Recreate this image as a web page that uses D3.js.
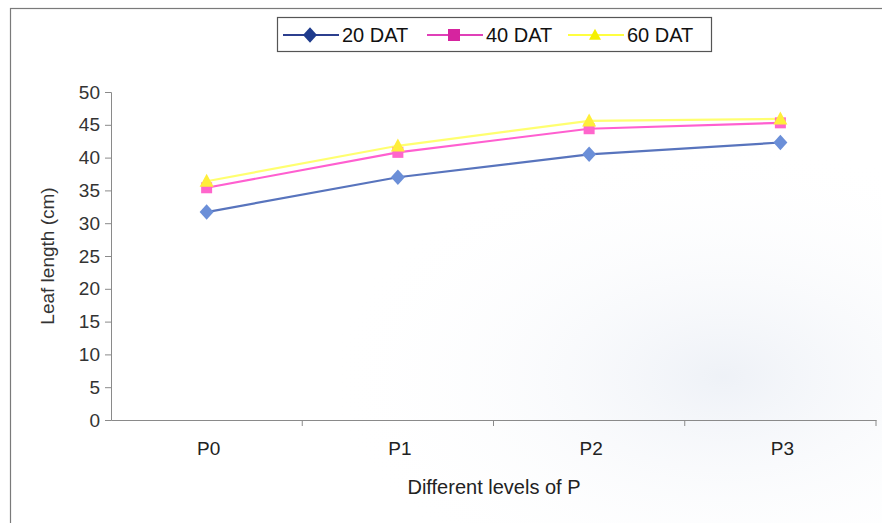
<!DOCTYPE html>
<html>
<head>
<meta charset="utf-8">
<script src="https://cdn.jsdelivr.net/npm/d3@7"></script>
<style>
  html, body { margin: 0; padding: 0; background: #fff; }
  svg { display: block; font-family: "Liberation Sans", Arial, sans-serif; }
</style>
</head>
<body>
<svg id="chart" width="882" height="523"></svg>
<script>
// Leaf length (cm) at different P levels, measured at 20/40/60 days after transplanting
const categories = ["P0", "P1", "P2", "P3"];
const seriesNames = ["20 DAT", "40 DAT", "60 DAT"];
const dat20 = [31.7, 37.0, 40.5, 42.3];
const dat40 = [35.4, 40.8, 44.4, 45.3];
const dat60 = [36.4, 41.8, 45.6, 45.9];
const yTicks = [0, 5, 10, 15, 20, 25, 30, 35, 40, 45, 50];

const series = [
  { name: seriesNames[0], values: dat20, line: "#5874bd", marker: "#6b8fd8", legendLine: "#2c3f8e", legendMarker: "#1f3b8c", shape: "diamond" },
  { name: seriesNames[1], values: dat40, line: "#ff5fd0", marker: "#ff66cc", legendLine: "#e040b8", legendMarker: "#d6249f", shape: "square" },
  { name: seriesNames[2], values: dat60, line: "#ffff70", marker: "#ffee3a", legendLine: "#ffff40", legendMarker: "#f5f000", shape: "triangle" }
];

const svg = d3.select("#chart");

// faint haze in the lower right of the frame
const defs = svg.append("defs");
const grad = defs.append("radialGradient").attr("id", "haze")
  .attr("cx", "0.82").attr("cy", "0.72").attr("r", "0.45");
grad.append("stop").attr("offset", "0").attr("stop-color", "#eaeef5").attr("stop-opacity", 0.8);
grad.append("stop").attr("offset", "1").attr("stop-color", "#ffffff").attr("stop-opacity", 0);
svg.append("rect").attr("x", 0).attr("y", 0).attr("width", 882).attr("height", 523).attr("fill", "url(#haze)");

// chart frame
svg.append("rect").attr("x", 10.5).attr("y", 8.5).attr("width", 900).attr("height", 540)
  .attr("fill", "none").attr("stroke", "#7a7a7a").attr("stroke-width", 1.2);

const plot = { left: 111, right: 876, top: 92, bottom: 420 };

const x = d3.scaleBand().domain(categories).range([plot.left, plot.right]).padding(0);
const y = d3.scaleLinear().domain([0, 50]).range([plot.bottom, plot.top]);
const cx = c => x(c) + x.bandwidth() / 2;

// y axis
const yAxis = d3.axisLeft(y).tickValues(yTicks).tickSize(6).tickPadding(5);
const gy = svg.append("g").attr("transform", `translate(${plot.left},0)`).call(yAxis);
gy.select(".domain").attr("stroke", "#8a8a8a");
gy.selectAll(".tick line").attr("stroke", "#8a8a8a");
gy.selectAll(".tick text").attr("fill", "#333").attr("font-size", 19);

// x axis: ticks at category boundaries
const xAxis = d3.axisBottom(x).tickSize(0).tickPadding(22);
const gx = svg.append("g").attr("transform", `translate(0,${plot.bottom})`).call(xAxis);
gx.select(".domain").attr("stroke", "#8a8a8a");
gx.selectAll(".tick text").attr("fill", "#222").attr("font-size", 19).attr("dx", 2);
const bounds = categories.map(c => x(c)).concat([x(categories[categories.length - 1]) + x.bandwidth()]).slice(1);
gx.selectAll(".bound").data(bounds).enter().append("line")
  .attr("x1", d => d).attr("x2", d => d).attr("y1", 0).attr("y2", 6)
  .attr("stroke", "#8a8a8a");

// axis titles
svg.append("text").attr("x", 494).attr("y", 494)
  .attr("text-anchor", "middle").attr("font-size", 20).attr("fill", "#222")
  .text("Different levels of P");
svg.append("text").attr("transform", `translate(54,${(plot.top + plot.bottom) / 2}) rotate(-90)`)
  .attr("text-anchor", "middle").attr("font-size", 19).attr("fill", "#333")
  .text("Leaf length (cm)");

function markerPath(shape, w) {
  const h = w / 2;
  if (shape === "diamond") return `M0,${-h * 1.1}L${h},0L0,${h * 1.1}L${-h},0Z`;
  if (shape === "square") return `M${-h},${-h}H${h}V${h}H${-h}Z`;
  return `M0,${-h * 1.05}L${h},${h * 0.8}L${-h},${h * 0.8}Z`;
}

const line = d3.line().x((d, i) => cx(categories[i])).y(d => y(d));

// draw series bottom-up so 60 DAT sits on top
series.forEach(s => {
  svg.append("path").datum(s.values).attr("d", line)
    .attr("fill", "none").attr("stroke", s.line).attr("stroke-width", 2.2);
});
series.forEach(s => {
  svg.selectAll(null).data(s.values).enter().append("path")
    .attr("d", markerPath(s.shape, s.shape === "diamond" ? 14 : s.shape === "square" ? 11 : 14))
    .attr("transform", (d, i) => `translate(${cx(categories[i])},${y(d)})`)
    .attr("fill", s.marker);
});

// legend
const lg = svg.append("g");
lg.append("rect").attr("x", 277.5).attr("y", 17.5).attr("width", 434).attr("height", 34)
  .attr("fill", "#fff").attr("stroke", "#555").attr("stroke-width", 1.2);
const legendX = [283, 427, 568];
series.forEach((s, i) => {
  const g = lg.append("g").attr("transform", `translate(${legendX[i]},35)`);
  g.append("line").attr("x1", 0).attr("x2", 56).attr("y1", 0).attr("y2", 0)
    .attr("stroke", s.legendLine).attr("stroke-width", 2);
  g.append("path").attr("d", markerPath(s.shape, s.shape === "diamond" ? 14 : 12))
    .attr("transform", "translate(27,0)").attr("fill", s.legendMarker);
  g.append("text").attr("x", 59).attr("y", 7).attr("font-size", 20).attr("fill", "#111")
    .text(s.name);
});
</script>
</body>
</html>
